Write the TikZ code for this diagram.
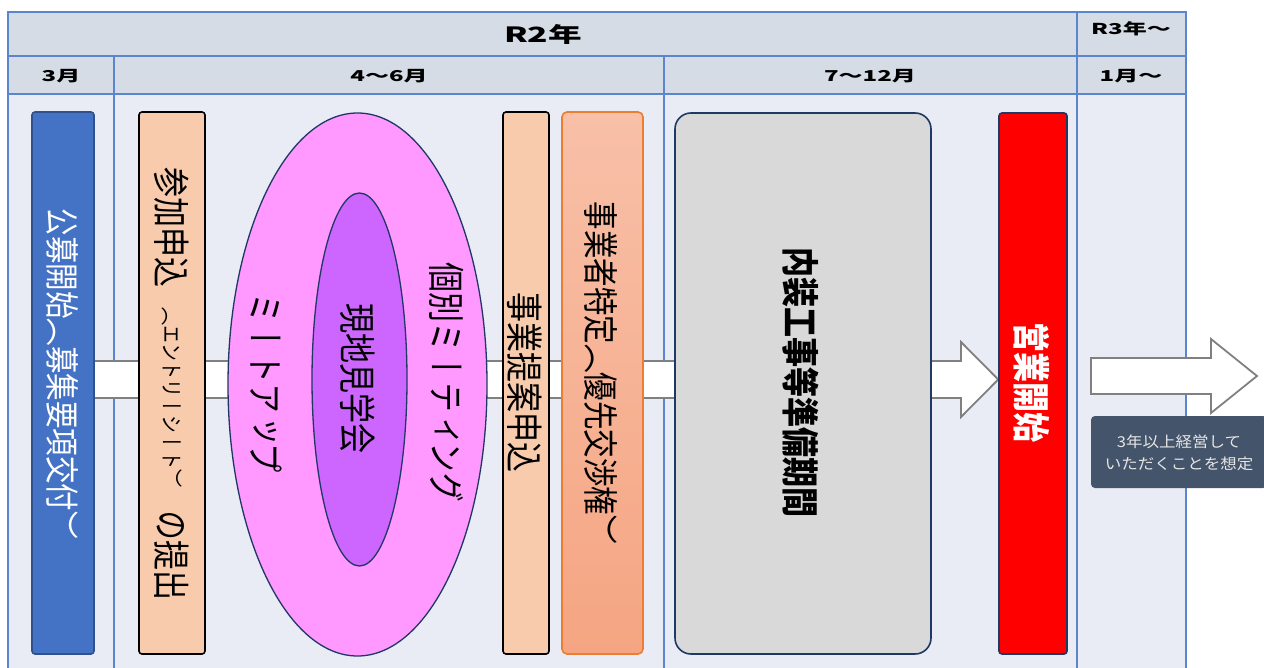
\documentclass[tikz,border=0pt]{standalone}
\usepackage{fontspec}
\usetikzlibrary{shapes.geometric}
\setmainfont{Noto Sans CJK JP}
\newfontfamily\vjp[Vertical=RotatedGlyphs]{Noto Sans CJK JP}
\pgfdeclarelayer{back}
\pgfdeclarelayer{mid}
\pgfsetlayers{back,mid,main}
\definecolor{hdrfill}{HTML}{D6DCE5}
\definecolor{bodyfill}{HTML}{E9EBF5}
\definecolor{gridline}{HTML}{5A86D0}
\definecolor{bluebox}{HTML}{4472C4}
\definecolor{bluedark}{HTML}{2F528F}
\definecolor{peach}{HTML}{F8CBAD}
\definecolor{pinkout}{HTML}{FF99FF}
\definecolor{purpin}{HTML}{CC66FF}
\definecolor{navy}{HTML}{1F3864}
\definecolor{orgtop}{HTML}{F8C0A8}
\definecolor{orgbot}{HTML}{F5A582}
\definecolor{orgline}{HTML}{ED7D31}
\definecolor{graybox}{HTML}{D9D9D9}
\definecolor{arrline}{HTML}{808080}
\definecolor{notefill}{HTML}{44546A}
\definecolor{notetext}{HTML}{E7E6E6}
\newcommand\vt[1]{\rotatebox{-90}{\scalebox{1}[1.25]{\vjp #1}}}
\newcommand\hx[1]{\scalebox{1.6}[1]{#1}}
\begin{document}
\begin{tikzpicture}[x=1pt,y=-1pt,
  pbox/.style={draw, line width=1.6pt, rounded corners=3pt, inner sep=0pt, minimum height=542pt},
  ovalshape/.style={ellipse, draw=navy, line width=1.3pt, inner sep=0pt},
  vtext/.style={inner sep=0pt, font=\fontsize{30}{30}\selectfont},
  hdrtext/.style={inner sep=0pt, font=\bfseries\fontsize{15}{15}\selectfont},
  arrowshape/.style={fill=white, draw=arrline, line width=1.8pt, line join=miter},
  gridstyle/.style={draw=gridline, line width=1.4pt}]
\useasboundingbox (0,0) rectangle (1264,668);

% table
\begin{pgfonlayer}{back}
  \fill[hdrfill] (8,12) rectangle (1186,94);
  \fill[bodyfill] (8,94) rectangle (1186,668);
  \draw[gridstyle] (8,680) -- (8,12) -- (1186,12) -- (1186,680);
  \draw[gridstyle] (8,56) -- (1186,56);
  \draw[gridstyle] (8,94) -- (1186,94);
  \draw[gridstyle] (114,56) -- (114,680);
  \draw[gridstyle] (664,56) -- (664,680);
  \draw[gridstyle] (1077,12) -- (1077,680);
\end{pgfonlayer}

% headers
\node[hdrtext, font=\bfseries\fontsize{21}{21}\selectfont] (hR2) at (543,34) {\hx{R2年}};
\node[hdrtext] (hR3) at (1131,29) {\hx{R3年～}};
\node[hdrtext] (hm3) at (61,76) {\hx{3月}};
\node[hdrtext] (hm46) at (389,76) {\hx{4～6月}};
\node[hdrtext] (hm712) at (870,76) {\hx{7～12月}};
\node[hdrtext] (hm1) at (1131,76) {\hx{1月～}};

% boxes
\node[pbox, fill=bluebox, draw=bluedark, minimum width=62pt] (b1) at (63,383) {};
\node[pbox, fill=peach, draw=black, minimum width=66pt] (b2) at (172,383) {};
\node[ovalshape, fill=pinkout, minimum width=259pt, minimum height=543pt] (ov1) at (357.5,384.5) {};
\node[ovalshape, fill=purpin, minimum width=95pt, minimum height=373pt] (ov2) at (359.5,379.5) {};
\node[pbox, fill=peach, draw=black, minimum width=46pt] (b4) at (526,383) {};
\node[pbox, top color=orgtop, bottom color=orgbot, draw=orgline, rounded corners=5pt, minimum width=81pt] (b5) at (602.5,383) {};
\node[pbox, fill=graybox, draw=navy, rounded corners=16pt, minimum width=256pt, minimum height=541pt] (b6) at (803,383.5) {};
\node[pbox, fill=red, draw=navy, minimum width=68pt, minimum height=541pt] (b7) at (1033,383.5) {};

% texts
\node[vtext, text=white, font=\fontsize{27.5}{27.5}\selectfont] (t1) at (63,374) {\vt{公募開始（募集要項交付）}};
\node[vtext] (t2a) at (172,228) {\vt{参加申込}};
\node[vtext, font=\fontsize{18}{18}\selectfont] (t2b) at (172,398) {\vt{（エントリーシート）}};
\node[vtext] (t2c) at (172,555) {\vt{の提出}};
\node[vtext] (t3a) at (266,384) {\vt{ミートアップ}};
\node[vtext] (t3b) at (358,379) {\vt{現地見学会}};
\node[vtext] (t3c) at (447,383) {\vt{個別ミーティング}};
\node[vtext] (t4) at (525,383) {\vt{事業提案申込}};
\node[vtext, font=\fontsize{28.5}{28.5}\selectfont] (t5) at (601,373) {\vt{事業者特定（優先交渉権）}};
\node[vtext, font=\bfseries\fontsize{30}{30}\selectfont] (t6) at (801,383) {\vt{内装工事等準備期間}};
\node[vtext, font=\bfseries\fontsize{30}{30}\selectfont, text=white] (t7) at (1032,383) {\vt{営業開始}};

% main arrow behind boxes
\begin{pgfonlayer}{mid}
  \draw[arrowshape] (b1.east |- 0,361) -- (961,361) -- (961,342) -- (b7.west |- 0,379.5)
     -- (961,417) -- (961,398) -- (b1.east |- 0,398);
\end{pgfonlayer}

% second arrow
\coordinate (a2s) at (1091,376);
\coordinate (a2e) at (1257,376);
\draw[arrowshape] (a2s |- 0,358) -- (1211,358) -- (1211,339) -- (a2e) -- (1211,413) -- (1211,394) -- (a2s |- 0,394) -- cycle;

% note
\node[fill=notefill, rounded corners=4pt, minimum width=176pt, minimum height=72pt, inner sep=0pt] (note) at (1179,452) {};
\node[text=notetext, align=center, inner sep=0pt, font=\fontsize{15}{22}\selectfont] (notetxt) at (1179,453)
  {\scalebox{1.1}[1]{3年以上経営して}\\\scalebox{1.1}[1]{いただくことを想定}};
\end{tikzpicture}
\end{document}
